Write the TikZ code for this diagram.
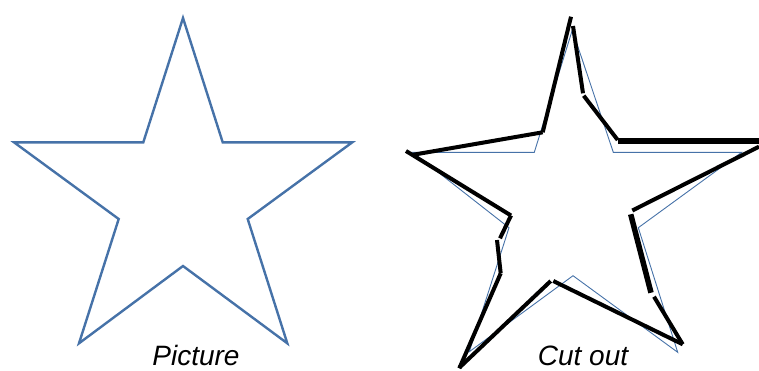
\documentclass[tikz,border=0pt]{standalone}
\usepackage{fontspec}
\setmainfont{Liberation Sans}
\definecolor{starblue}{HTML}{4672A8}
\begin{document}
\begin{tikzpicture}[x=1pt,y=-1pt,
  bigstar/.style={draw=starblue, line width=2.4pt, line join=miter},
  thinstar/.style={draw=starblue, line width=0.9pt, line join=miter},
  cutline/.style={draw=black, line width=4pt},
  cutthick/.style={draw=black, line width=5.5pt},
  caption/.style={font=\itshape\fontsize{28}{32}\selectfont, anchor=base, inner sep=0pt, text depth=0pt}]
\useasboundingbox (0,0) rectangle (759,370);
% left star
\draw[bigstar] (183,18) -- (222.7,142.3) -- (352.3,142.3) -- (247.7,219) -- (287.3,343.3)
  -- (183,266) -- (79,343.3) -- (118.7,219) -- (14,142.3) -- (143.3,142.3) -- cycle;
\node[caption] (pic) at (196,365.5) {Picture};
% right thin star
\draw[thinstar] (572.3,30) -- (613.3,152.3) -- (741.7,152.3) -- (638.3,227.7) -- (677.7,352.3)
  -- (573,275.7) -- (469.3,351.7) -- (509,227.7) -- (412.7,152.3) -- (534.3,152.3) -- cycle;
% cut out segments
\draw[cutline] (542.7,132.3) -- (571,16.7);
\draw[cutline] (573,26) -- (583,93.3);
\draw[cutline] (583.7,95.7) -- (617.7,140);
\draw[cutthick] (617.7,141) -- (759,141);
\draw[cutline] (759,146.7) -- (632.3,210.5);
\draw[cutline] (542.7,132.3) -- (411.7,155);
\draw[cutline] (406,151) -- (511,215.5);
\draw[cutline] (511,215.5) -- (500,238.3);
\draw[cutline] (497,240) -- (500.7,273.3);
\draw[cutline] (500.7,273.3) -- (459.3,368.3);
\draw[cutline] (459.3,367.7) -- (550.7,281);
\draw[cutline] (553.3,281) -- (682.7,344.3);
\draw[cutline] (682.7,344.3) -- (654,296.7);
\draw[cutthick] (651,292.7) -- (630.7,214.3);
\node[caption] (cut) at (583,365.5) {Cut out};
\end{tikzpicture}
\end{document}
